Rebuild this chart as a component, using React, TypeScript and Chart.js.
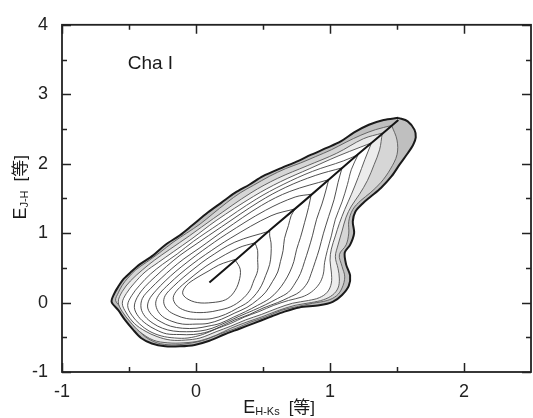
import React, { useEffect, useRef } from 'react';
import { Chart, registerables } from 'chart.js';

Chart.register(...registerables);

type P = [number, number];

// axes
const X_MIN = -1;
const X_MAX = 2.5;
const Y_MIN = -1;
const Y_MAX = 4;
const X_MAJOR = [-1, 0, 1, 2];
const X_MINOR = [-0.5, 0.5, 1.5];
const Y_MAJOR = [-1, 0, 1, 2, 3, 4];
const Y_MINOR = [-0.5, 0.5, 1.5, 2.5, 3.5];

// texts
const REGION_LABEL = 'Cha I';
const REGION_LABEL_AT: P = [-0.51, 3.37];
const X_TITLE_MAIN = 'E';
const X_TITLE_SUB = 'H-Ks';
const Y_TITLE_MAIN = 'E';
const Y_TITLE_SUB = 'J-H';
const UNIT = '[等]';

// outermost contour
const outer: P[] = [
  [1.51, 2.66], [1.58, 2.61], [1.63, 2.49], [1.64, 2.38], [1.62, 2.27], [1.58, 2.15], [1.52, 1.99],
  [1.46, 1.82], [1.38, 1.65], [1.30, 1.52], [1.24, 1.42], [1.19, 1.31], [1.17, 1.17], [1.18, 1.00],
  [1.15, 0.83], [1.11, 0.72], [1.12, 0.55], [1.15, 0.39], [1.14, 0.24], [1.09, 0.11], [1.02, 0.01],
  [0.92, -0.04], [0.77, -0.07], [0.66, -0.13], [0.55, -0.21], [0.43, -0.30], [0.32, -0.38],
  [0.21, -0.46], [0.10, -0.55], [-0.01, -0.61], [-0.12, -0.63], [-0.23, -0.63], [-0.33, -0.59],
  [-0.41, -0.51], [-0.47, -0.39], [-0.53, -0.25], [-0.58, -0.11], [-0.63, 0.01], [-0.61, 0.13],
  [-0.58, 0.23], [-0.54, 0.34], [-0.48, 0.45], [-0.42, 0.55], [-0.32, 0.68], [-0.23, 0.83],
  [-0.12, 0.97], [-0.03, 1.11], [0.09, 1.30], [0.19, 1.44], [0.29, 1.58], [0.40, 1.70], [0.50, 1.82],
  [0.64, 1.94], [0.75, 2.03], [0.86, 2.13], [0.98, 2.23], [1.08, 2.32], [1.18, 2.45], [1.29, 2.56],
  [1.40, 2.63], [1.51, 2.66],
];

const c11: P[] = [
  [1.46, 2.55], [1.50, 2.34], [1.50, 2.13], [1.45, 1.92], [1.38, 1.73], [1.30, 1.58], [1.23, 1.47],
  [1.17, 1.34], [1.14, 1.17], [1.14, 1.00], [1.12, 0.83], [1.07, 0.69], [1.09, 0.52], [1.11, 0.37],
  [1.09, 0.21], [1.05, 0.10], [0.98, 0.03], [0.87, -0.01], [0.75, -0.06], [0.64, -0.11],
  [0.53, -0.20], [0.41, -0.28], [0.30, -0.37], [0.18, -0.45], [0.06, -0.54], [-0.06, -0.59],
  [-0.18, -0.61], [-0.29, -0.58], [-0.38, -0.49], [-0.44, -0.37], [-0.51, -0.21], [-0.56, -0.07],
  [-0.60, 0.03], [-0.58, 0.14], [-0.55, 0.25], [-0.51, 0.35], [-0.45, 0.47], [-0.37, 0.58],
  [-0.27, 0.72], [-0.17, 0.87], [-0.07, 1.00], [0.03, 1.13], [0.12, 1.27], [0.23, 1.44],
  [0.33, 1.58], [0.43, 1.69], [0.55, 1.82], [0.67, 1.93], [0.78, 2.01], [0.89, 2.10], [1.01, 2.20],
  [1.12, 2.31], [1.23, 2.41], [1.34, 2.49], [1.46, 2.55],
];

const c10: P[] = [
  [1.39, 2.44], [1.37, 2.20], [1.33, 1.99], [1.28, 1.76], [1.22, 1.56], [1.16, 1.39], [1.12, 1.23],
  [1.09, 1.03], [1.06, 0.83], [1.04, 0.66], [1.06, 0.49], [1.07, 0.34], [1.06, 0.21], [1.02, 0.11],
  [0.95, 0.04], [0.86, 0.00], [0.74, -0.04], [0.62, -0.11], [0.50, -0.20], [0.38, -0.28],
  [0.26, -0.37], [0.15, -0.47], [0.03, -0.55], [-0.09, -0.58], [-0.21, -0.58], [-0.32, -0.54],
  [-0.42, -0.42], [-0.49, -0.28], [-0.55, -0.13], [-0.58, 0.01], [-0.55, 0.16], [-0.49, 0.31],
  [-0.40, 0.47], [-0.31, 0.61], [-0.20, 0.76], [-0.05, 0.96], [0.13, 1.21], [0.41, 1.58],
  [0.61, 1.79], [0.83, 1.97], [1.05, 2.15], [1.25, 2.36], [1.39, 2.44],
];

const c9: P[] = [
  [1.31, 2.30], [1.26, 2.06], [1.21, 1.80], [1.16, 1.56], [1.11, 1.34], [1.07, 1.14], [1.04, 0.96],
  [1.01, 0.77], [1.00, 0.61], [1.01, 0.44], [1.01, 0.28], [0.98, 0.15], [0.92, 0.07], [0.84, 0.03],
  [0.72, -0.01], [0.61, -0.08], [0.49, -0.17], [0.37, -0.25], [0.26, -0.34], [0.15, -0.42],
  [0.03, -0.51], [-0.08, -0.54], [-0.19, -0.54], [-0.29, -0.49], [-0.38, -0.41], [-0.46, -0.30],
  [-0.52, -0.15], [-0.55, -0.01], [-0.52, 0.13], [-0.46, 0.28], [-0.38, 0.44], [-0.28, 0.58],
  [-0.17, 0.73], [-0.03, 0.92], [0.15, 1.18], [0.43, 1.53], [0.63, 1.74], [0.85, 1.93],
  [1.06, 2.11], [1.23, 2.24], [1.31, 2.30],
];

const c8: P[] = [
  [1.21, 2.13], [1.16, 1.92], [1.13, 1.70], [1.09, 1.45], [1.04, 1.20], [1.01, 0.96], [0.98, 0.75],
  [0.96, 0.58], [0.95, 0.41], [0.92, 0.27], [0.86, 0.15], [0.79, 0.08], [0.69, 0.03], [0.58, -0.04],
  [0.47, -0.13], [0.36, -0.21], [0.26, -0.30], [0.15, -0.38], [0.05, -0.46], [-0.06, -0.51],
  [-0.16, -0.51], [-0.26, -0.48], [-0.35, -0.41], [-0.42, -0.31], [-0.48, -0.18], [-0.51, -0.04],
  [-0.48, 0.10], [-0.42, 0.25], [-0.34, 0.41], [-0.25, 0.55], [-0.14, 0.70], [-0.02, 0.88],
  [0.17, 1.13], [0.45, 1.49], [0.65, 1.70], [0.87, 1.89], [1.10, 2.04], [1.21, 2.13],
];

const c7: P[] = [
  [1.09, 1.94], [1.06, 1.73], [1.03, 1.48], [0.99, 1.24], [0.95, 0.99], [0.92, 0.77], [0.89, 0.59],
  [0.86, 0.42], [0.83, 0.28], [0.77, 0.15], [0.69, 0.07], [0.61, 0.00], [0.50, -0.08], [0.40, -0.17],
  [0.29, -0.25], [0.19, -0.34], [0.09, -0.42], [-0.02, -0.46], [-0.12, -0.46], [-0.22, -0.45],
  [-0.30, -0.39], [-0.37, -0.31], [-0.43, -0.20], [-0.46, -0.07], [-0.44, 0.07], [-0.38, 0.23],
  [-0.30, 0.38], [-0.22, 0.52], [-0.12, 0.68], [0.00, 0.84], [0.19, 1.09], [0.47, 1.45],
  [0.67, 1.66], [0.89, 1.83], [1.09, 1.94],
];

const c6: P[] = [
  [0.99, 1.77], [0.97, 1.62], [0.94, 1.42], [0.90, 1.20], [0.87, 0.97], [0.84, 0.77], [0.81, 0.59],
  [0.78, 0.42], [0.74, 0.28], [0.69, 0.15], [0.61, 0.06], [0.52, -0.03], [0.43, -0.11], [0.32, -0.20],
  [0.23, -0.28], [0.12, -0.37], [0.03, -0.41], [-0.07, -0.42], [-0.17, -0.41], [-0.25, -0.37],
  [-0.32, -0.30], [-0.38, -0.20], [-0.41, -0.08], [-0.40, 0.06], [-0.34, 0.20], [-0.26, 0.35],
  [-0.18, 0.49], [-0.09, 0.63], [0.03, 0.79], [0.21, 1.04], [0.49, 1.40], [0.70, 1.60], [0.99, 1.77],
];

const c5: P[] = [
  [0.86, 1.56], [0.84, 1.37], [0.81, 1.15], [0.78, 0.94], [0.75, 0.76], [0.73, 0.59], [0.70, 0.44],
  [0.66, 0.30], [0.61, 0.17], [0.55, 0.06], [0.46, -0.04], [0.37, -0.13], [0.28, -0.21], [0.18, -0.30],
  [0.09, -0.34], [0.00, -0.37], [-0.10, -0.37], [-0.19, -0.34], [-0.26, -0.28], [-0.32, -0.20],
  [-0.36, -0.08], [-0.35, 0.04], [-0.30, 0.17], [-0.23, 0.31], [-0.15, 0.45], [-0.06, 0.59],
  [0.05, 0.75], [0.23, 0.99], [0.52, 1.33], [0.74, 1.52], [0.86, 1.56],
];

const c4: P[] = [
  [0.74, 1.35], [0.71, 1.25], [0.69, 1.11], [0.66, 0.92], [0.65, 0.75], [0.63, 0.59], [0.61, 0.44],
  [0.57, 0.30], [0.52, 0.15], [0.46, 0.04], [0.38, -0.07], [0.29, -0.15], [0.19, -0.24], [0.09, -0.30],
  [0.00, -0.31], [-0.10, -0.31], [-0.18, -0.27], [-0.25, -0.20], [-0.29, -0.10], [-0.30, 0.01],
  [-0.27, 0.13], [-0.20, 0.27], [-0.12, 0.41], [-0.03, 0.55], [0.07, 0.69], [0.26, 0.93],
  [0.56, 1.25], [0.74, 1.35],
];

const c3: P[] = [
  [0.55, 1.03], [0.55, 0.96], [0.56, 0.86], [0.56, 0.70], [0.55, 0.55], [0.52, 0.39], [0.49, 0.25],
  [0.45, 0.13], [0.39, 0.01], [0.31, -0.08], [0.22, -0.17], [0.12, -0.23], [0.03, -0.24], [-0.07, -0.23],
  [-0.15, -0.18], [-0.21, -0.11], [-0.24, -0.01], [-0.23, 0.10], [-0.17, 0.23], [-0.09, 0.37],
  [0.00, 0.51], [0.09, 0.64], [0.29, 0.87], [0.55, 1.03],
];

const c2: P[] = [
  [0.44, 0.86], [0.46, 0.75], [0.46, 0.62], [0.46, 0.46], [0.43, 0.31], [0.40, 0.17], [0.34, 0.04],
  [0.26, -0.06], [0.17, -0.11], [0.08, -0.14], [-0.02, -0.14], [-0.10, -0.10], [-0.15, -0.03],
  [-0.17, 0.07], [-0.14, 0.18], [-0.06, 0.32], [0.03, 0.46], [0.12, 0.58], [0.32, 0.79], [0.44, 0.86],
];

const c1: P[] = [
  [0.29, 0.62], [0.33, 0.48], [0.32, 0.30], [0.28, 0.14], [0.22, 0.04], [0.12, 0.00], [0.01, 0.00],
  [-0.07, 0.06], [-0.10, 0.14], [-0.07, 0.25], [0.00, 0.35], [0.09, 0.45], [0.17, 0.54], [0.24, 0.59],
  [0.29, 0.62],
];

// ridge line
const ridge: P[] = [
  [0.10, 0.29], [0.30, 0.62], [0.55, 1.04], [0.80, 1.45], [1.02, 1.82], [1.20, 2.12], [1.36, 2.38], [1.51, 2.63],
];

const FONT = '"Liberation Sans", Arial, Helvetica, sans-serif';
const FONT_CJK = '"Liberation Sans", "Noto Sans CJK SC", sans-serif';

const toXY = (pts: P[]) => pts.map(([x, y]) => ({ x, y }));

type Part = { text: string; size: number; dy: number; gap?: number; family?: string };

function partsWidth(ctx: CanvasRenderingContext2D, parts: Part[]) {
  let w = 0;
  for (const p of parts) {
    ctx.font = `${p.size}px ${p.family || FONT}`;
    w += ctx.measureText(p.text).width + (p.gap || 0);
  }
  return w;
}

function drawParts(ctx: CanvasRenderingContext2D, parts: Part[], x0: number, base: number) {
  let x = x0;
  for (const p of parts) {
    ctx.font = `${p.size}px ${p.family || FONT}`;
    ctx.fillText(p.text, x, base + p.dy);
    x += ctx.measureText(p.text).width + (p.gap || 0);
  }
}

const decorPlugin = {
  id: 'decor',
  afterDraw(chart: any) {
    const { ctx, chartArea: a, scales } = chart;
    const xs = scales.x;
    const ys = scales.y;
    ctx.save();
    ctx.strokeStyle = '#222';
    ctx.lineWidth = 1.8;
    ctx.strokeRect(a.left, a.top, a.right - a.left, a.bottom - a.top);
    ctx.lineWidth = 1.5;
    const vt = (vals: number[], len: number) => {
      for (const v of vals) {
        const px = Math.round(xs.getPixelForValue(v)) + 0.5;
        ctx.beginPath();
        ctx.moveTo(px, a.bottom);
        ctx.lineTo(px, a.bottom - len);
        ctx.moveTo(px, a.top);
        ctx.lineTo(px, a.top + len);
        ctx.stroke();
      }
    };
    const ht = (vals: number[], len: number) => {
      for (const v of vals) {
        const py = Math.round(ys.getPixelForValue(v)) + 0.5;
        ctx.beginPath();
        ctx.moveTo(a.left, py);
        ctx.lineTo(a.left + len, py);
        ctx.moveTo(a.right, py);
        ctx.lineTo(a.right - len, py);
        ctx.stroke();
      }
    };
    vt(X_MAJOR, 9);
    vt(X_MINOR, 5);
    ht(Y_MAJOR, 9);
    ht(Y_MINOR, 5);

    ctx.fillStyle = '#1a1a1a';
    ctx.textBaseline = 'alphabetic';
    ctx.textAlign = 'left';
    // region label
    ctx.font = `19px ${FONT}`;
    ctx.fillText(REGION_LABEL, xs.getPixelForValue(REGION_LABEL_AT[0]), ys.getPixelForValue(REGION_LABEL_AT[1]));

    // x title
    const xParts: Part[] = [
      { text: X_TITLE_MAIN, size: 18, dy: 0 },
      { text: X_TITLE_SUB, size: 11, dy: 2, gap: 9 },
      { text: UNIT, size: 17, dy: 0, family: FONT_CJK },
    ];
    const xw = partsWidth(ctx, xParts);
    const xc = a.left + (a.right - a.left) * 0.463;
    drawParts(ctx, xParts, xc - xw / 2, 413);

    // y title
    const yParts: Part[] = [
      { text: Y_TITLE_MAIN, size: 18, dy: 0 },
      { text: Y_TITLE_SUB, size: 11, dy: 2, gap: 9 },
      { text: UNIT, size: 17, dy: 0, family: FONT_CJK },
    ];
    const yw = partsWidth(ctx, yParts);
    const yc = a.top + (a.bottom - a.top) * 0.468;
    ctx.translate(26, yc);
    ctx.rotate(-Math.PI / 2);
    drawParts(ctx, yParts, -yw / 2, 0);
    ctx.restore();
  },
};

export default function App() {
  const ref = useRef<HTMLCanvasElement | null>(null);
  useEffect(() => {
    if (!ref.current) return;
    const contours = [c1, c2, c3, c4, c5, c6, c7, c8, c9, c10, c11];
    const fills = ['', '', '', '', '', '', '', '', '#ffffff', '#ececec', '#d6d6d6'];
    const colors = ['#3a3a3a', '#3a3a3a', '#3a3a3a', '#3a3a3a', '#3a3a3a', '#3a3a3a', '#3a3a3a', '#444', '#4a4a4a', '#555', '#5a5a5a'];
    const datasets: any[] = [
      {
        data: toXY(ridge),
        borderColor: '#141414',
        borderWidth: 2,
        tension: 0,
        pointRadius: 0,
        fill: false,
      },
      ...contours.map((c, i) => ({
        data: toXY(c),
        borderColor: colors[i],
        borderWidth: 0.9,
        tension: 0.35,
        pointRadius: 0,
        fill: fills[i] ? 'shape' : false,
        backgroundColor: fills[i] || 'transparent',
      })),
      {
        data: toXY(outer),
        borderColor: '#1a1a1a',
        borderWidth: 2,
        tension: 0.3,
        pointRadius: 0,
        fill: 'shape',
        backgroundColor: '#bfbfbf',
      },
    ];
    const chart = new Chart(ref.current, {
      type: 'line',
      data: { datasets },
      options: {
        animation: false,
        responsive: true,
        maintainAspectRatio: false,
        events: [],
        layout: { padding: { top: 17, right: 2, left: 0, bottom: 0 } },
        plugins: { legend: { display: false }, tooltip: { enabled: false } },
        scales: {
          x: {
            type: 'linear',
            min: X_MIN,
            max: X_MAX,
            grid: { display: false, drawTicks: false },
            border: { display: false },
            ticks: {
              stepSize: 1,
              includeBounds: false,
              padding: 9,
              color: '#222',
              font: { family: FONT, size: 18 },
              callback: (v: any) => (X_MAJOR.includes(Number(v)) ? String(v) : ''),
            },
            afterFit: (s: any) => {
              s.height = 46;
            },
          },
          y: {
            type: 'linear',
            min: Y_MIN,
            max: Y_MAX,
            grid: { display: false, drawTicks: false },
            border: { display: false },
            ticks: {
              stepSize: 1,
              padding: 14,
              color: '#222',
              font: { family: FONT, size: 18 },
              callback: (v: any) => (Y_MAJOR.includes(Number(v)) ? String(v) : ''),
            },
            afterFit: (s: any) => {
              s.width = 62;
            },
          },
        },
      },
      plugins: [decorPlugin],
    });
    return () => chart.destroy();
  }, []);
  return (
    <div style={{ position: 'fixed', left: 0, top: 0, width: 533, height: 418, background: '#fff' }}>
      <canvas ref={ref} />
    </div>
  );
}
